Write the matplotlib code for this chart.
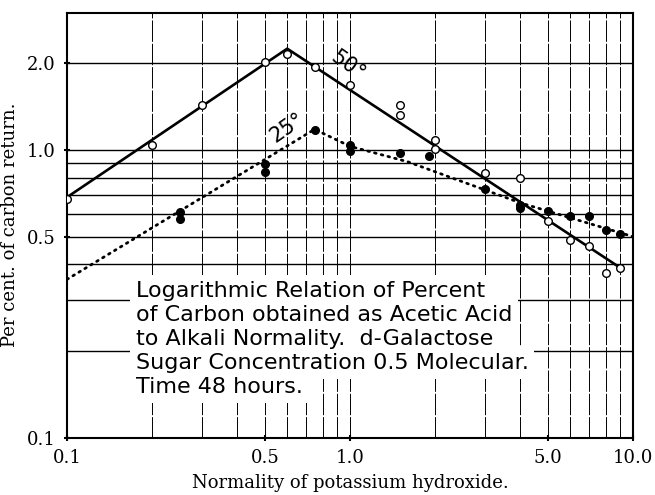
import matplotlib
matplotlib.use('Agg')
import matplotlib.pyplot as plt
from matplotlib.ticker import FixedLocator, NullFormatter, NullLocator

# Observed points, 50 degrees (open circles)
x50 = [0.1, 0.2, 0.3, 0.5, 0.6, 0.75, 1.0, 1.5, 1.5, 2.0, 2.0, 3.0, 4.0, 5.0, 6.0, 7.0, 8.0, 9.0]
y50 = [0.675, 1.04, 1.43, 2.02, 2.15, 1.95, 1.68, 1.43, 1.32, 1.08, 1.01, 0.83, 0.80, 0.565, 0.485, 0.465, 0.375, 0.39]

# Observed points, 25 degrees (filled circles)
x25 = [0.25, 0.25, 0.5, 0.5, 0.75, 1.0, 1.0, 1.5, 1.9, 3.0, 4.0, 4.0, 5.0, 6.0, 7.0, 8.0, 9.0]
y25 = [0.61, 0.575, 0.895, 0.84, 1.17, 1.04, 0.99, 0.975, 0.955, 0.73, 0.645, 0.63, 0.615, 0.59, 0.59, 0.525, 0.51]

# Hand drawn lines through the points
line50_x = [0.1, 0.6, 9.0]
line50_y = [0.685, 2.25, 0.39]
line25_x = [0.1, 0.75, 1.0, 1.6, 4.0, 10.0]
line25_y = [0.355, 1.18, 1.03, 0.91, 0.655, 0.5]

xticks = [0.1, 0.5, 1.0, 5.0, 10.0]
xtick_labels = ['0.1', '0.5', '1.0', '5.0', '10.0']
yticks = [0.1, 0.5, 1.0, 2.0]
ytick_labels = ['0.1', '0.5', '1.0', '2.0']
xgrid = [0.2, 0.3, 0.4, 0.5, 0.6, 0.7, 0.8, 0.9, 1.0, 2.0, 3.0, 4.0, 5.0, 6.0, 7.0, 8.0, 9.0]
ygrid = [0.2, 0.3, 0.4, 0.5, 0.6, 0.7, 0.8, 0.9, 1.0, 2.0]

note_lines = ['Logarithmic Relation of Percent',
              'of Carbon obtained as Acetic Acid',
              'to Alkali Normality.  d-Galactose',
              'Sugar Concentration 0.5 Molecular.',
              'Time 48 hours.']

fig = plt.figure(figsize=(6.55, 4.95), dpi=100)
ax = fig.add_axes([0.1023, 0.1158, 0.8641, 0.8585])
ax.set_xscale('log')
ax.set_yscale('log')
ax.set_xlim(0.1, 10.0)
ax.set_ylim(0.1, 3.0)

# grid lines
for gx in xgrid:
    ax.axvline(gx, color='black', lw=0.7, ls=(0, (22, 2)), zorder=1)
for gy in ygrid:
    ax.axhline(gy, color='black', lw=1.0, zorder=1)

# note text, each line pasted over the grid (pixel coords from bottom left)
for i, line in enumerate(note_lines):
    ypix = 495 - (297 + i * 24)
    ax.text(136, ypix, line, transform=None, fontsize=16, color='white',
            family='DejaVu Sans', ha='left', va='baseline', zorder=2,
            bbox=dict(facecolor='white', edgecolor='none', pad=4))
    ax.text(136, ypix, line, transform=None, fontsize=16,
            family='DejaVu Sans', ha='left', va='baseline', zorder=3)

ax.plot(line50_x, line50_y, color='black', lw=1.9, zorder=4)
ax.plot(line25_x, line25_y, color='black', lw=2.0, ls=(0, (0.6, 1.9)),
        dash_capstyle='round', zorder=4)
ax.plot(x50, y50, 'o', ms=5.5, mfc='white', mec='black', mew=1.0, zorder=5)
ax.plot(x25, y25, 'o', ms=5.5, mfc='black', mec='black', zorder=5)

ax.text(0.984, 1.963, '50°', fontsize=15, rotation=-35, ha='center', va='center',
        rotation_mode='anchor', zorder=6)
ax.text(0.599, 1.193, '25°', fontsize=15, rotation=35, ha='center', va='center',
        rotation_mode='anchor', zorder=6)

ax.xaxis.set_major_locator(FixedLocator(xticks))
ax.xaxis.set_minor_locator(NullLocator())
ax.yaxis.set_major_locator(FixedLocator(yticks))
ax.yaxis.set_minor_locator(NullLocator())
ax.xaxis.set_minor_formatter(NullFormatter())
ax.yaxis.set_minor_formatter(NullFormatter())
ax.set_xticklabels(xtick_labels, family='DejaVu Serif', fontsize=13)
ax.set_yticklabels(ytick_labels, family='DejaVu Serif', fontsize=13)
ax.tick_params(direction='inout', length=4, width=1.5, pad=6)

for s in ax.spines.values():
    s.set_linewidth(1.5)

ax.set_xlabel('Normality of potassium hydroxide.', family='DejaVu Serif', fontsize=13, labelpad=5)
ax.set_ylabel('Per cent. of carbon return.', family='DejaVu Serif', fontsize=13, labelpad=6)

fig.savefig('out.png', dpi=100)
